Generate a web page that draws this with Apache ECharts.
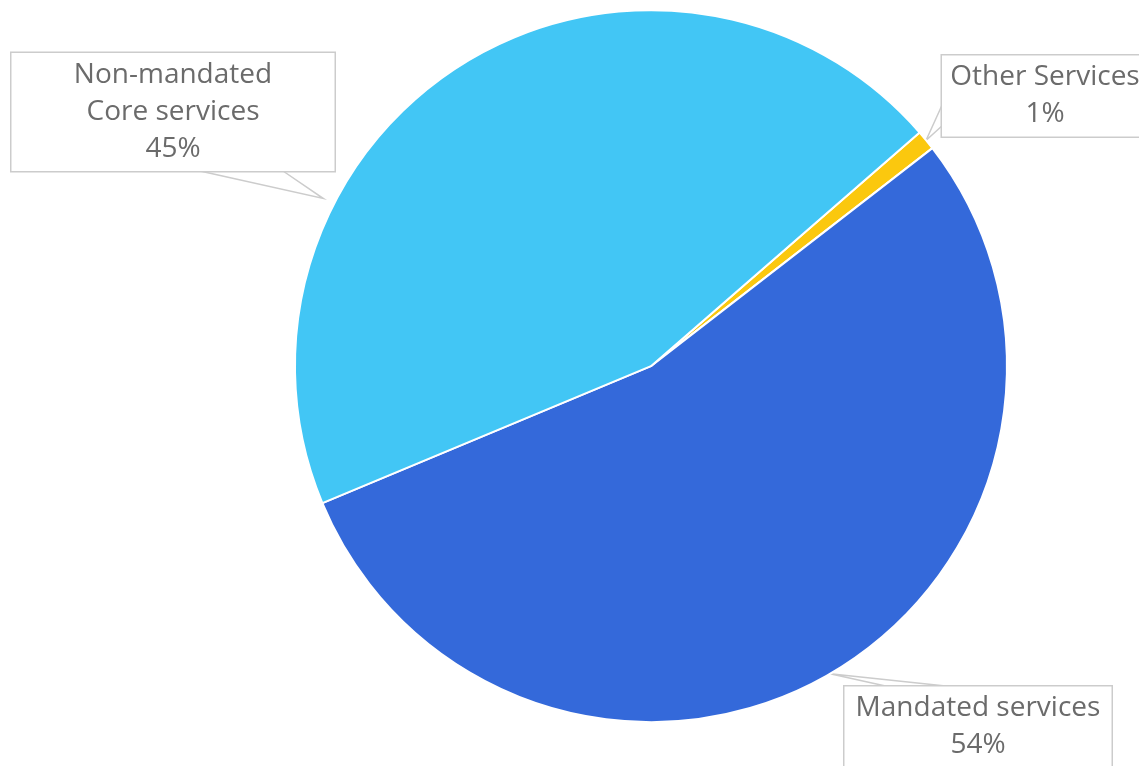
<!DOCTYPE html>
<html><head><meta charset="utf-8">
<script src="https://cdn.jsdelivr.net/npm/echarts@6/dist/echarts.min.js"></script>
<style>html,body{margin:0;padding:0;background:#fff}#c{width:1139px;height:766px}</style>
</head><body><div id="c"></div>
<script>
const categories = ['Other Services', 'Mandated services', 'Non-mandated\nCore services'];
const values = [0.9, 54.2, 44.9];
const colors = ['#FBC80E', '#3469DA', '#42C6F5'];

const W = 1139, H = 766;
const CX = W * 0.5715, CY = H * 0.478, R = 356;
// callout boxes: centre x, centre y, width (text), wedge base points
const boxes = [
  {x: 1045, y: 96, w: 186, base: [[943, 103], [943, 125]]},
  {x: 978, y: 727, w: 247, base: [[890, 687], [955, 687]]},
  {x: 173, y: 112, w: 303, base: [[200, 171], [283, 171]], anchorDeg: 152.9, anchorR: R + 12}
];

const chart = echarts.init(document.getElementById('c'));
chart.setOption({
  animation: false,
  series: [{
    type: 'pie',
    center: ['57.15%', '47.8%'],
    radius: R,
    startAngle: 41,
    clockwise: true,
    percentPrecision: 0,
    itemStyle: {borderColor: '#fff', borderWidth: 2},
    label: {
      formatter: '{b}\n{d}%',
      fontFamily: 'Open Sans',
      fontSize: 28,
      lineHeight: 37,
      color: '#6b6b6b',
      align: 'center',
      backgroundColor: '#fff',
      borderColor: '#cccccc',
      borderWidth: 1.5,
      padding: [6, 10, 1, 10],
      overflow: 'none'
    },
    labelLine: {show: true, lineStyle: {color: '#cccccc', width: 1.5}, length: 20, length2: 20},
    labelLayout: function (p) {
      const b = boxes[p.dataIndex];
      let anchor = p.labelLinePoints ? p.labelLinePoints[0] : [CX, CY];
      if (b.anchorDeg !== undefined) {
        const a = b.anchorDeg * Math.PI / 180;
        anchor = [CX + b.anchorR * Math.cos(a), CY - b.anchorR * Math.sin(a)];
      }
      return {
        x: b.x, y: b.y, align: 'center', verticalAlign: 'middle',
        labelLinePoints: [b.base[0], anchor, b.base[1]]
      };
    },
    data: categories.map((c, i) => ({
      name: c, value: values[i], itemStyle: {color: colors[i]},
      label: {width: boxes[i].w}
    }))
  }]
});
</script></body></html>
